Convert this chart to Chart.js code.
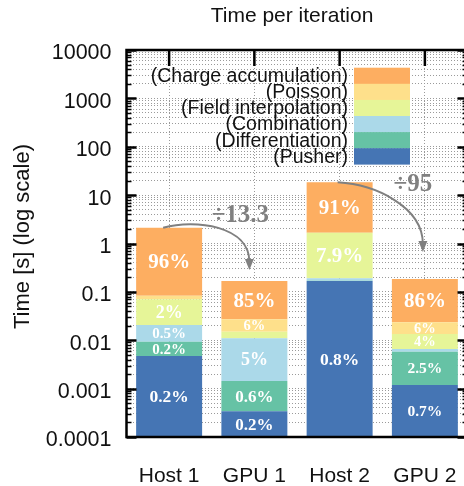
<!DOCTYPE html>
<html>
<head>
<meta charset="utf-8">
<script src="https://cdn.jsdelivr.net/npm/chart.js@4.4.0/dist/chart.umd.min.js"></script>
<style>
  html, body { margin: 0; padding: 0; background: #fff; overflow: hidden; }
  canvas { display: block; }
</style>
</head>
<body>
<canvas id="chart" width="472" height="486" style="width:472px;height:486px"></canvas>
<script>
  // Categories and per-kernel times (seconds), stacked bottom -> top
  const categories = ['Host 1', 'GPU 1', 'Host 2', 'GPU 2'];
  const pusherTime = [0.0047, 0.00034, 0.168, 0.00119];
  const differentiationTime = [0.0046, 0.0011, 0.0015, 0.0046];
  const combinationTime = [0.0114, 0.0096, 0.021, 0.0008];
  const fieldInterpTime = [0.050, 0.0040, 1.48, 0.0069];
  const poissonTime = [0.012, 0.0121, 0, 0.0100];
  const chargeAccumTime = [2.04, 0.141, 16.7, 0.1615];

  // Share of the total, as printed on the bars
  const pusherPct = ['0.2%', '0.2%', '0.8%', '0.7%'];
  const differentiationPct = ['0.2%', '0.6%', '', '2.5%'];
  const combinationPct = ['0.5%', '5%', '', ''];
  const fieldInterpPct = ['2%', '', '7.9%', '4%'];
  const poissonPct = ['', '6%', '', '6%'];
  const chargeAccumPct = ['96%', '85%', '91%', '86%'];

  // Speed-up arrows: from category -> to category
  const speedupFrom = [0, 2];
  const speedupTo = [1, 3];
  const speedupLabels = ['÷13.3', '÷95'];

  const yTickLabels = ['0.0001', '0.001', '0.01', '0.1', '1', '10', '100', '1000', '10000'];
  const yMin = 0.0001;
  const yMax = 10000;

  const SANS = "'Liberation Sans', Arial, sans-serif";
  const SERIF = "'Liberation Serif', 'Times New Roman', serif";

  // label font sizes per dataset (style only)
  const pctSizes = {
    pusher: [17.5, 17, 17.5, 15.5],
    differentiation: [15, 17, 15, 15.5],
    combination: [15, 18, 15, 15],
    field: [18, 15, 21, 14.5],
    poisson: [14.5, 14.5, 14.5, 14.5],
    charge: [21, 21, 21, 21]
  };

  const series = [
    { key: 'pusher', label: '(Pusher)', data: pusherTime, pct: pusherPct, color: '#4575b4' },
    { key: 'differentiation', label: '(Differentiation)', data: differentiationTime, pct: differentiationPct, color: '#66c2a5' },
    { key: 'combination', label: '(Combination)', data: combinationTime, pct: combinationPct, color: '#abd9e9' },
    { key: 'field', label: '(Field interpolation)', data: fieldInterpTime, pct: fieldInterpPct, color: '#e6f598' },
    { key: 'poisson', label: '(Poisson)', data: poissonTime, pct: poissonPct, color: '#fee08b' },
    { key: 'charge', label: '(Charge accumulation)', data: chargeAccumTime, pct: chargeAccumPct, color: '#fdae61' }
  ];

  // minor + major log ticks
  const yTickValues = [];
  for (let e = -4; e <= 4; e++) {
    for (let m = 1; m <= 9; m++) {
      const v = m * Math.pow(10, e);
      if (v <= yMax * 1.0001) yTickValues.push(v);
    }
  }
  function isDecade(v) {
    const l = Math.log10(v);
    return Math.abs(l - Math.round(l)) < 1e-6;
  }

  /**
   * Draws percentages, frame with inward ticks, legend, arrows and titles
   */
  const decorPlugin = {
    id: 'decor',
    afterDatasetsDraw(chart) {
      const ctx = chart.ctx;
      const area = chart.chartArea;
      const yScale = chart.scales.y;
      const xScale = chart.scales.x;

      // percentages on the segments
      ctx.save();
      ctx.fillStyle = '#ffffff';
      ctx.textAlign = 'center';
      ctx.textBaseline = 'middle';
      series.forEach((s, di) => {
        const meta = chart.getDatasetMeta(di);
        meta.data.forEach((bar, i) => {
          const txt = s.pct[i];
          if (!txt) return;
          const size = pctSizes[s.key][i];
          ctx.font = `bold ${size}px ${SERIF}`;
          ctx.fillText(txt, bar.x, (bar.y + bar.base) / 2 + 1);
        });
      });
      ctx.restore();

      // frame
      ctx.save();
      ctx.strokeStyle = '#000';
      ctx.lineWidth = 2.5;
      ctx.strokeRect(area.left, area.top, area.right - area.left, area.bottom - area.top);
      yTickValues.forEach(v => {
        const y = Math.round(yScale.getPixelForValue(v)) + 0.5;
        const len = isDecade(v) ? 10 : 5;
        ctx.lineWidth = isDecade(v) ? 2.5 : 1.5;
        ctx.beginPath();
        ctx.moveTo(area.left, y);
        ctx.lineTo(area.left + len, y);
        ctx.moveTo(area.right, y);
        ctx.lineTo(area.right - len, y);
        ctx.stroke();
      });
      ctx.lineWidth = 2.5;
      categories.forEach((c, i) => {
        const x = xScale.getPixelForValue(i);
        ctx.beginPath();
        ctx.moveTo(x, area.top);
        ctx.lineTo(x, area.top + 16);
        ctx.stroke();
      });
      ctx.restore();

      // legend (top entry first)
      ctx.save();
      const boxRight = area.right - 57.5;
      const boxW = 56;
      const boxH = 16.1;
      const boxTop = area.top + 17.7;
      ctx.font = `19.5px ${SANS}`;
      ctx.textAlign = 'right';
      ctx.textBaseline = 'middle';
      series.slice().reverse().forEach((s, k) => {
        const y0 = boxTop + k * boxH;
        ctx.fillStyle = s.color;
        ctx.fillRect(boxRight - boxW, y0, boxW, boxH + 0.3);
        ctx.fillStyle = '#111';
        ctx.fillText(s.label, boxRight - boxW - 6, y0 + boxH / 2 + 1);
      });
      ctx.restore();

      // speed-up arrows
      const topMeta = chart.getDatasetMeta(series.length - 1);
      const arrowStyle = [
        { dx0: -6, dx1: -5, dyEnd: -11, c1: [32, -9], c2: [0, -2], tx: -9, ty: -12 },
        { dx0: -2, dx1: -2, dyEnd: -27, c1: [37, 2], c2: [0, 24], tx: -10, ty: 2 }
      ];
      ctx.save();
      ctx.strokeStyle = '#808080';
      ctx.fillStyle = '#808080';
      ctx.lineWidth = 2;
      speedupFrom.forEach((from, k) => {
        const st = arrowStyle[k];
        const a = topMeta.data[from];
        const b = topMeta.data[speedupTo[k]];
        const p0 = [a.x + st.dx0, a.y];
        const p3 = [b.x + st.dx1, b.y + st.dyEnd];
        const p1 = [p0[0] + st.c1[0], p0[1] + st.c1[1]];
        const p2 = [p3[0] + st.c2[0], p0[1] + st.c2[1]];
        ctx.beginPath();
        ctx.moveTo(p0[0], p0[1]);
        ctx.bezierCurveTo(p1[0], p1[1], p2[0], p2[1], p3[0], p3[1] - 8);
        ctx.stroke();
        ctx.beginPath();
        ctx.moveTo(p3[0], p3[1]);
        ctx.lineTo(p3[0] - 4.5, p3[1] - 11);
        ctx.lineTo(p3[0] + 4.5, p3[1] - 11);
        ctx.closePath();
        ctx.fill();
        ctx.font = `bold 25px ${SERIF}`;
        ctx.textAlign = 'center';
        ctx.textBaseline = 'middle';
        ctx.fillText(speedupLabels[k], p3[0] + st.tx, p0[1] + st.ty);
      });
      ctx.restore();

      // chart title
      ctx.save();
      ctx.fillStyle = '#111';
      ctx.font = `21px ${SANS}`;
      ctx.textAlign = 'center';
      ctx.textBaseline = 'middle';
      ctx.fillText('Time per iteration', (area.left + area.right) / 2 - 5, 16);
      ctx.restore();

      // y axis title
      ctx.save();
      ctx.fillStyle = '#111';
      ctx.font = `22px ${SANS}`;
      ctx.textAlign = 'center';
      ctx.textBaseline = 'middle';
      ctx.translate(23, (area.top + area.bottom) / 2 - 7);
      ctx.rotate(-Math.PI / 2);
      ctx.fillText('Time [s] (log scale)', 0, 0);
      ctx.restore();
    }
  };

  const chart = new Chart(document.getElementById('chart'), {
    type: 'bar',
    data: {
      labels: categories,
      datasets: series.map(s => ({
        label: s.label,
        data: s.data,
        backgroundColor: s.color,
        borderWidth: 0,
        barPercentage: 0.774,
        categoryPercentage: 1
      }))
    },
    options: {
      responsive: false,
      animation: false,
      devicePixelRatio: 1,
      layout: { padding: { top: 50, right: 4.5, left: 0, bottom: 0 } },
      scales: {
        x: {
          stacked: true,
          grid: { color: '#9a9a9a', lineWidth: 1, offset: false, drawTicks: false, borderDash: [1, 2] },
          border: { display: false, dash: [1, 2] },
          ticks: { color: '#111', font: { family: SANS, size: 21 }, padding: 27 },
          afterFit(scale) {
            scale.height = 49;
            scale.paddingLeft = 0;
            scale.paddingRight = 0;
          }
        },
        y: {
          type: 'logarithmic',
          stacked: true,
          min: yMin,
          max: yMax,
          afterBuildTicks(scale) {
            scale.ticks = yTickValues.map(v => ({ value: v, major: isDecade(v) }));
          },
          grid: { color: '#9a9a9a', lineWidth: 1, drawTicks: false, borderDash: [1, 2] },
          border: { display: false, dash: [1, 2] },
          ticks: {
            autoSkip: false,
            color: '#111',
            font: { family: SANS, size: 21.5 },
            padding: 15,
            labelOffset: 3.5,
            callback(v) {
              if (!isDecade(v)) return '';
              return yTickLabels[Math.round(Math.log10(v)) + 4];
            }
          },
          afterFit(scale) {
            scale.width = 126.5;
            scale.paddingTop = 0;
            scale.paddingBottom = 0;
          }
        }
      },
      plugins: {
        legend: { display: false },
        tooltip: { enabled: false }
      }
    },
    plugins: [decorPlugin]
  });
</script>
</body>
</html>
